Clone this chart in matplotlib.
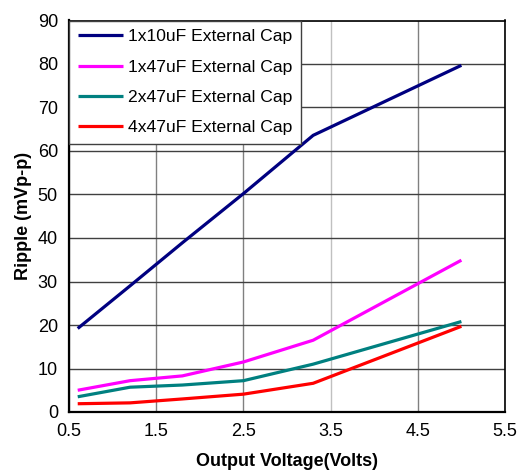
import matplotlib
matplotlib.use("Agg")
import matplotlib.pyplot as plt

plt.rcParams['font.family'] = ['Liberation Sans', 'DejaVu Sans']

voltage = [0.6, 1.2, 1.8, 2.5, 3.3, 5.0]
cap_1x10 = [19.2, 29.0, 38.9, 50.2, 63.6, 79.7]
cap_1x47 = [5.0, 7.2, 8.3, 11.5, 16.5, 34.9]
cap_2x47 = [3.5, 5.7, 6.2, 7.2, 11.0, 20.8]
cap_4x47 = [1.9, 2.1, 3.0, 4.1, 6.6, 19.7]
labels = ["1x10uF External Cap", "1x47uF External Cap", "2x47uF External Cap", "4x47uF External Cap"]
colors = ["#000080", "#FF00FF", "#008080", "#FF0000"]
xticks = [0.5, 1.5, 2.5, 3.5, 4.5, 5.5]
yticks = [0, 10, 20, 30, 40, 50, 60, 70, 80, 90]

fig = plt.figure(figsize=(5.18, 4.71), dpi=100)
ax = fig.add_axes([69/518, 1-412/471, (505-69)/518, (412-20.5)/471])

for ys, lab, c in zip([cap_1x10, cap_1x47, cap_2x47, cap_4x47], labels, colors):
    ax.plot(voltage, ys, color=c, lw=2.3, label=lab, solid_capstyle='butt')

ax.set_xlim(0.5, 5.5)
ax.set_ylim(0, 90)
ax.set_xticks(xticks)
ax.set_xticklabels([f"{t:.1f}" for t in xticks])
ax.set_yticks(yticks)
ax.tick_params(length=0, labelsize=13, pad=8)
ax.grid(True, axis='y', color='#404040', lw=1.0)
ax.grid(True, axis='x', color='#808080', lw=1.0)
xgl = ax.get_xgridlines()
xgl[3].set_color('#c0c0c0')
ax.set_axisbelow(True)
for s in ax.spines.values():
    s.set_color('black')
    s.set_linewidth(1.2)
ax.spines['left'].set_linewidth(1.6)
ax.spines['bottom'].set_linewidth(1.6)

ax.set_ylabel("Ripple (mVp-p)", fontsize=13, fontweight='bold', labelpad=4)
ax.set_xlabel("Output Voltage(Volts)", fontsize=13, fontweight='bold', labelpad=9)

leg = ax.legend(loc='upper left', bbox_to_anchor=(0, 1), fontsize=12.6, frameon=True,
                fancybox=False, edgecolor='#404040', framealpha=1, borderaxespad=0,
                handlelength=2.6, handletextpad=0.25, labelspacing=0.86, borderpad=0.5)
leg.get_frame().set_linewidth(1.0)

fig.savefig("out.png", dpi=100)
